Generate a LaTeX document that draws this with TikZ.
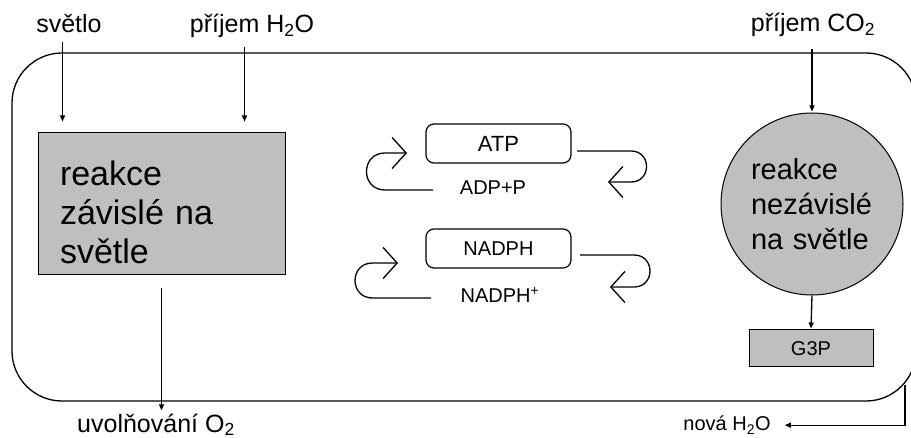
\documentclass[tikz,border=0pt]{standalone}
\usepackage{fontspec}
\setmainfont{Liberation Sans}
\usetikzlibrary{arrows.meta,calc}
\definecolor{boxgray}{HTML}{BFBFBF}
\begin{document}
\begin{tikzpicture}[x=1pt,y=-1pt,
  ln/.style={line width=1.3pt},
  arr/.style={line width=1.3pt,-{Triangle[length=6pt,width=5pt]}},
  cyc/.style={line width=1.3pt,-{Straight Barb[length=14pt,width=31pt,line width=1.3pt]}},
  lbl/.style={font=\fontsize{25}{30}\selectfont, inner sep=0pt, anchor=base},
  small/.style={font=\fontsize{20}{24}\selectfont, inner sep=0pt, anchor=base},
  graybox/.style={draw, line width=1pt, fill=boxgray, inner sep=0pt},
  pill/.style={draw, rounded corners=8pt, line width=1.2pt, minimum width=145pt, minimum height=39pt, inner sep=0pt},
]
\useasboundingbox (0,0) rectangle (911,438);
\clip (0,0) rectangle (911,438);
% outer cell
\draw[ln, rounded corners=50pt] (12,53) rectangle (916,401);

% labels
\node[lbl] (svetlo) at (69,33) {světlo};
\node[lbl] (h2o) at (252,33) {příjem H\textsubscript{2}O};
\node[lbl] (co2) at (813,32) {příjem CO\textsubscript{2}};
\node[lbl] (uvol) at (156,432) {uvolňování O\textsubscript{2}};
\node[small] (nova) at (727,431) {nová H\textsubscript{2}O};

% main boxes
\node[graybox, minimum width=247pt, minimum height=142pt, inner xsep=22pt, text width=203pt, align=left,
      font=\fontsize{34}{39}\selectfont] (lr) at (161.5,204)
      {\rule{0pt}{41pt}reakce\\závislé na\\světle};
\node[graybox, circle, minimum size=182pt, text width=122pt, align=left,
      font=\fontsize{29}{35}\selectfont] (lir) at (812,204)
      {reakce\\nezávislé\\na světle};
\node[graybox, minimum width=124pt, minimum height=37pt, font=\fontsize{20}{24}\selectfont] (g3p) at (811,348.5) {G3P};

% ATP / NADPH
\node[pill, font=\fontsize{22}{26}\selectfont] (atp) at (498.5,143.5) {ATP};
\node[pill, font=\fontsize{20}{24}\selectfont] (nadph) at (498.5,248.5) {NADPH};
\node[small] (adp) at (493,195) {ADP+P};
\node[small] (nadphp) at (500,303) {NADPH\textsuperscript{+}};

% input arrows
\coordinate (s1) at ([xshift=25pt]lr.north west);
\coordinate (s2) at ([xshift=-41pt]lr.north east);
\draw[arr, shorten <=9pt, shorten >=11pt] (s1 |- svetlo.south) -- (s1);
\draw[arr, shorten <=9pt, shorten >=11pt] (s2 |- h2o.south) -- (s2);
\draw[arr, shorten <=12pt, shorten >=1pt] (lir.north |- co2.south) -- (lir.north);

% output arrows
\draw[arr, shorten <=13pt, shorten >=3pt] (lr.south) -- (lr.south |- uvol.north);
\draw[arr, shorten >=1pt] (lir.south) -- (g3p.north);
\coordinate (oc) at (905,385);
\draw[arr] (oc) |- ([xshift=14pt]nova.east);

% cycle arrows ATP
\draw[cyc] (433,190) -- (385,190) .. controls (360.3,190) and (360.3,153) .. (385,153) -- (407,153);
\draw[cyc] (577,151) -- (631,151) .. controls (651.7,151) and (651.7,182) .. (631,182) -- (608,182);
% cycle arrows NADPH
\draw[cyc] (431,298) -- (372.5,298) .. controls (349.2,298) and (349.2,263) .. (372.5,263) -- (398,263);
\draw[cyc] (580,255) -- (634,255) .. controls (655.3,255) and (655.3,287) .. (634,287) -- (610,287);
\end{tikzpicture}
\end{document}
